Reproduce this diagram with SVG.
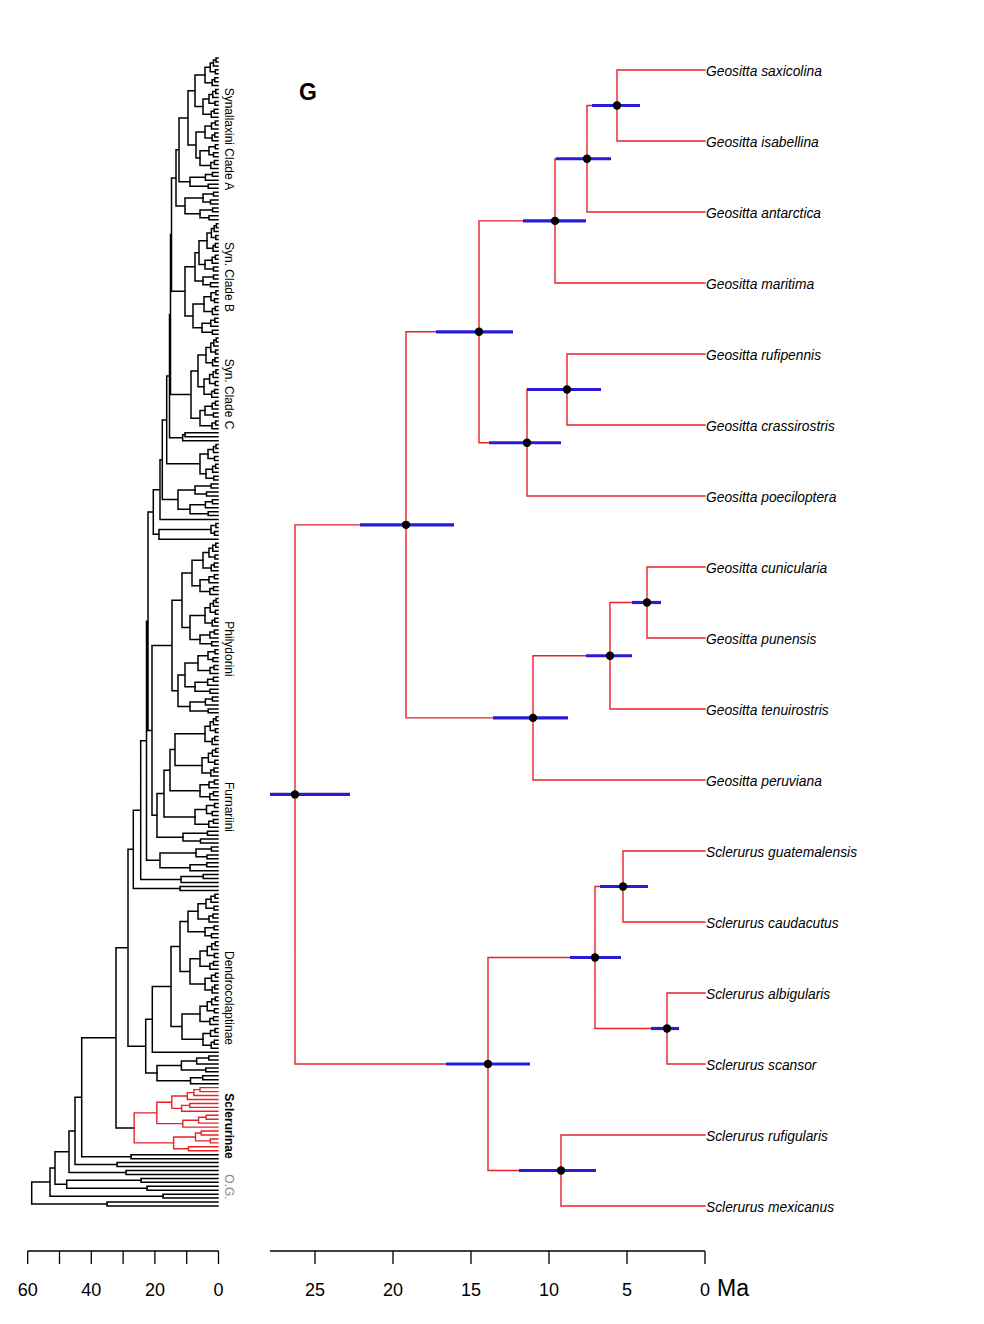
<svg xmlns="http://www.w3.org/2000/svg" width="984" height="1324" viewBox="0 0 984 1324">
<style>
.bk{fill:none;stroke:#000;stroke-width:1.5;vector-effect:non-scaling-stroke;stroke-linecap:square}
.rd{fill:none;stroke:#e8222a;stroke-width:1.4;vector-effect:non-scaling-stroke;stroke-linecap:square}
.bar{fill:none;stroke:#2a1bd8;stroke-width:3.2}
.ax{fill:none;stroke:#000;stroke-width:1.3}
.tip{font-family:"Liberation Sans",Arial,sans-serif;font-style:italic;font-size:13.8px;fill:#000}
.num{font-family:"Liberation Sans",Arial,sans-serif;font-size:18px;fill:#000;text-anchor:middle}
.cl{font-family:"Liberation Sans",Arial,sans-serif;font-size:12px;fill:#000;text-anchor:middle}
</style>
<defs>
<path id="t2" class="bk" d="M-100,0H0M-100,1H0M-100,0V1"/>
<path id="t3" class="bk" d="M-40,0H0M-40,1H0M-40,0V1M-100,.5H-40M-100,2H0M-100,.5V2"/>
<path id="t4" class="bk" d="M-30,0H0M-30,1H0M-30,0V1M-50,2H0M-50,3H0M-50,2V3M-100,.5H-30M-100,2.5H-50M-100,.5V2.5"/>
<path id="t5" class="bk" d="M-20,0H0M-20,1H0M-20,0V1M-45,.5H-20M-45,2H0M-45,.5V2M-35,3H0M-35,4H0M-35,3V4M-100,1.25H-45M-100,3.5H-35M-100,1.25V3.5"/>
<path id="t6" class="bk" d="M-20,0H0M-20,1H0M-20,0V1M-50,.5H-20M-50,2H0M-50,.5V2M-25,3H0M-25,4H0M-25,3V4M-45,3.5H-25M-45,5H0M-45,3.5V5M-100,1.25H-50M-100,4.25H-45M-100,1.25V4.25"/>
<path id="t7" class="bk" d="M-15,0H0M-15,1H0M-15,0V1M-25,2H0M-25,3H0M-25,2V3M-50,.5H-15M-50,2.5H-25M-50,.5V2.5M-20,4H0M-20,5H0M-20,4V5M-40,4.5H-20M-40,6H0M-40,4.5V6M-100,1.5H-50M-100,5.25H-40M-100,1.5V5.25"/>
<path id="t8" class="bk" d="M-15,0H0M-15,1H0M-35,2H0M-20,3H0M-20,4H0M-25,5H0M-25,6H0M-45,7H0M-15,0V1M-35,.5H-15M-35,.5V2M-20,3V4M-60,1.25H-35M-60,3.5H-20M-60,1.25V3.5M-25,5V6M-45,5.5H-25M-45,5.5V7M-100,2.375H-60M-100,6.25H-45M-100,2.375V6.25"/>
</defs>
<rect width="984" height="1324" fill="#fff"/>

<!-- left overview tree -->
<g id="overview-tree" transform="translate(0,58) scale(1,3.945)">
<path class="bk" d="M195,4.3125V12.3125M195,4.3125H205M195,12.3125H203M196,18.75H205M196,18.75V25.375H200M188,8.3125H195M188,8.3125V22.0625H196M179,15.1875H188M179,15.1875V31.375H190M185,35.5H203M185,35.5V39.5H200M176,23.28H179M176,23.28V37.5H185M199,46.3125H207M199,46.3125V52.375H205M195,49.34H199M195,49.34V56.5H203M193,62.375H204M193,62.375V68.375H202M185,52.92H195M185,52.92V65.375H193M198,75.3125H206M198,75.3125V83.3125H204M200,89.375H205M200,89.375V93.25H212M191,79.3125H198M191,79.3125V91.31H200M182.7,95.5H185M182.7,95.5V97H218M171.5,30.39H176M171.5,30.39V59.15H185M170.5,44.77H171.5M170.5,44.77V85.31H191M169.5,65.04H170.5M169.5,65.04V96.25H182.7M200,100.375H208M200,100.375V105.375H206M166.7,80.64H169.5M166.7,80.64V102.875H200M178,109.5H195M178,109.5V114.375H190M162.3,91.76H166.7M162.3,91.76V111.94H178M160,101.85H162.3M160,101.85V117H218M159,119.5H211M159,119.5V122H218M153.3,109.42H160M153.3,109.42V120.75H159M192,127.3125H203M192,127.3125V133.75H200M190,141.3125H205M190,141.3125V147.375H200M182,130.53H192M182,130.53V144.34H190M185,153.375H198M185,153.375V159.375H195M178,156.375H185M178,156.375V164.375H190M172,137.44H182M172,137.44V160.375H178M175,171.3125H205M175,171.3125V179.3125H202M170,175.3125H175M170,175.3125V185.75H200M164,180.53H170M164,180.53V192.375H195M157,186.45H164M157,186.45V197.5H183M152,148.91H172M152,148.91V191.98H157M148,115.09H153.3M148,115.09V170.45H152M160,201.5H196M160,201.5V205.25H190M146.5,142.77H148M146.5,142.77V203.375H160M140.7,173.07H146.5M140.7,173.07V208.25H181M133.3,190.66H140.7M133.3,190.66V210.5H180M188,216.3125H198M188,216.3125V221.5H205M190,228.3125H200M190,228.3125V234.75H205M180,218.91H188M180,218.91V231.53H190M182,242.3125H200M182,242.3125V248.75H203M171,225.22H180M171,225.22V245.53H182M152.3,235.38H171M152.3,235.38V252H218M145.7,243.69H152.3M145.7,243.69V257.3125H157M128,200.58H133.3M128,200.58V250.5H145.7M116,225.54H128M116,225.54V271.21H134.2M81.7,248.38H116M81.7,248.38V278.5H131M75,263.44H81.7M75,263.44V280.5H117M69,271.97H75M69,271.97V282.5H126M66.7,284.5H141M66.7,284.5V286.5H147M55,277.24H69M55,277.24V285.5H66.7M50,281.37H55M50,281.37V288.5H163M31.7,284.93H50M31.7,284.93V290.5H107"/>
<use href="#t8" transform="translate(218,0) scale(.13,1)"/>
<use href="#t8" transform="translate(218,8) scale(.15,1)"/>
<use href="#t6" transform="translate(218,16) scale(.13,1)"/>
<use href="#t7" transform="translate(218,22) scale(.18,1)"/>
<use href="#t5" transform="translate(218,29) scale(.28,1)"/>
<use href="#t4" transform="translate(218,34) scale(.15,1)"/>
<use href="#t4" transform="translate(218,38) scale(.18,1)"/>
<use href="#t8" transform="translate(218,42) scale(.11,1)"/>
<use href="#t5" transform="translate(218,50) scale(.13,1)"/>
<use href="#t4" transform="translate(218,55) scale(.15,1)"/>
<use href="#t7" transform="translate(218,59) scale(.14,1)"/>
<use href="#t5" transform="translate(218,66) scale(.16,1)"/>
<use href="#t8" transform="translate(218,71) scale(.12,1)"/>
<use href="#t8" transform="translate(218,79) scale(.14,1)"/>
<use href="#t5" transform="translate(218,87) scale(.13,1)"/>
<use href="#t3" transform="translate(218,92) scale(.06,1)"/>
<use href="#t2" transform="translate(218,95) scale(.33,1)"/>
<use href="#t5" transform="translate(218,98) scale(.10,1)"/>
<use href="#t5" transform="translate(218,103) scale(.12,1)"/>
<use href="#t4" transform="translate(218,108) scale(.23,1)"/>
<use href="#t5" transform="translate(218,112) scale(.28,1)"/>
<use href="#t4" transform="translate(218,118) scale(.07,1)"/>
<use href="#t8" transform="translate(218,123) scale(.15,1)"/>
<use href="#t6" transform="translate(218,131) scale(.18,1)"/>
<use href="#t8" transform="translate(218,137) scale(.13,1)"/>
<use href="#t5" transform="translate(218,145) scale(.18,1)"/>
<use href="#t7" transform="translate(218,150) scale(.20,1)"/>
<use href="#t5" transform="translate(218,157) scale(.23,1)"/>
<use href="#t5" transform="translate(218,162) scale(.28,1)"/>
<use href="#t8" transform="translate(218,167) scale(.13,1)"/>
<use href="#t8" transform="translate(218,175) scale(.16,1)"/>
<use href="#t6" transform="translate(218,183) scale(.18,1)"/>
<use href="#t7" transform="translate(218,189) scale(.23,1)"/>
<use href="#t4" transform="translate(218,196) scale(.35,1)"/>
<use href="#t4" transform="translate(218,200) scale(.22,1)"/>
<use href="#t3" transform="translate(218,204) scale(.28,1)"/>
<use href="#t3" transform="translate(218,207) scale(.37,1)"/>
<use href="#t2" transform="translate(218,210) scale(.38,1)"/>
<use href="#t8" transform="translate(218,212) scale(.20,1)"/>
<use href="#t4" transform="translate(218,220) scale(.13,1)"/>
<use href="#t8" transform="translate(218,224) scale(.18,1)"/>
<use href="#t6" transform="translate(218,232) scale(.13,1)"/>
<use href="#t8" transform="translate(218,238) scale(.18,1)"/>
<use href="#t6" transform="translate(218,246) scale(.15,1)"/>
<use href="#t8" transform="translate(218,253) scale(.61,1)"/>
<use href="#t2" transform="translate(218,278) scale(.87,1)"/>
<use href="#t2" transform="translate(218,280) scale(1.01,1)"/>
<use href="#t2" transform="translate(218,282) scale(.92,1)"/>
<use href="#t2" transform="translate(218,284) scale(.77,1)"/>
<use href="#t2" transform="translate(218,286) scale(.71,1)"/>
<use href="#t2" transform="translate(218,288) scale(.55,1)"/>
<use href="#t2" transform="translate(218,290) scale(1.11,1)"/>
<use href="#redtree" transform="matrix(0.2045 0 0 0.0140845 73.83 260.0141)"/>
</g>

<g id="overview-labels">
<text class="cl" transform="translate(224.5,139) rotate(90)">Synallaxini Clade A</text>
<text class="cl" transform="translate(224.5,277) rotate(90)">Syn. Clade B</text>
<text class="cl" transform="translate(224.5,394) rotate(90)">Syn. Clade C</text>
<text class="cl" transform="translate(224.5,649) rotate(90)">Philydorini</text>
<text class="cl" transform="translate(224.5,807) rotate(90)">Furnariini</text>
<text class="cl" transform="translate(224.5,998) rotate(90)">Dendrocolaptinae</text>
<text class="cl" font-weight="bold" transform="translate(224.5,1126) rotate(90)">Sclerurinae</text>
<text class="cl" style="fill:#888" transform="translate(224.5,1187) rotate(90)">O.G.</text>
</g>

<!-- panel label -->
<text x="299" y="100" font-family="Liberation Sans, Arial, sans-serif" font-weight="bold" font-size="23">G</text>

<!-- connectors of the detailed tree -->
<g id="connectors">
<path id="redtree" class="rd" d="M617,70H705M617,141H705M587,212H705M555,283H705M567,354H705M567,425H705M527,496H705M647,567H705M647,638H705M610,709H705M533,780H705M623,851H705M623,922H705M667,993H705M667,1064H705M561,1135H705M561,1206H705M617,70V141M587,105.5H617M587,105.5V212M555,158.75H587M555,158.75V283M567,354V425M527,389.5H567M527,389.5V496M479,220.875H555M479,220.875V442.75H527M647,567V638M610,602.5H647M610,602.5V709M533,655.75H610M533,655.75V780M406,331.81H479M406,331.81V717.875H533M623,851V922M667,993V1064M595,886.5H623M595,886.5V1028.5H667M561,1135V1206M488,957.5H595M488,957.5V1170.5H561M295,524.84H406M295,524.84V1064H488"/>
</g>

<!-- internal nodes: age bar + dot -->
<g id="n-sax-isa"><path class="bar" d="M592,105.5H640"/><circle cx="617" cy="105.5" r="4.2"/></g>
<g id="n-sax-ant"><path class="bar" d="M556,158.75H611"/><circle cx="587" cy="158.75" r="4.2"/></g>
<g id="n-sax-mar"><path class="bar" d="M523,220.875H586"/><circle cx="555" cy="220.875" r="4.2"/></g>
<g id="n-geo-a"><path class="bar" d="M436,331.81H513"/><circle cx="479" cy="331.81" r="4.2"/></g>
<g id="n-ruf-cra"><path class="bar" d="M527,389.5H601"/><circle cx="567" cy="389.5" r="4.2"/></g>
<g id="n-ruf-poe"><path class="bar" d="M489,442.75H561"/><circle cx="527" cy="442.75" r="4.2"/></g>
<g id="n-geositta"><path class="bar" d="M360,524.84H454"/><circle cx="406" cy="524.84" r="4.2"/></g>
<g id="n-cun-pun"><path class="bar" d="M632,602.5H661"/><circle cx="647" cy="602.5" r="4.2"/></g>
<g id="n-cun-ten"><path class="bar" d="M586,655.75H632"/><circle cx="610" cy="655.75" r="4.2"/></g>
<g id="n-cun-per"><path class="bar" d="M493,717.875H568"/><circle cx="533" cy="717.875" r="4.2"/></g>
<g id="n-root"><path class="bar" d="M270,794.42H350"/><circle cx="295" cy="794.42" r="4.2"/></g>
<g id="n-gua-cau"><path class="bar" d="M600,886.5H648"/><circle cx="623" cy="886.5" r="4.2"/></g>
<g id="n-gua-sca"><path class="bar" d="M570,957.5H621"/><circle cx="595" cy="957.5" r="4.2"/></g>
<g id="n-alb-sca"><path class="bar" d="M651,1028.5H679"/><circle cx="667" cy="1028.5" r="4.2"/></g>
<g id="n-sclerurus"><path class="bar" d="M446,1064H530"/><circle cx="488" cy="1064" r="4.2"/></g>
<g id="n-ruf-mex"><path class="bar" d="M519,1170.5H596"/><circle cx="561" cy="1170.5" r="4.2"/></g>

<!-- tips -->
<g id="tip-saxicolina"><text class="tip" x="706" y="75.5">Geositta saxicolina</text></g>
<g id="tip-isabellina"><text class="tip" x="706" y="146.5">Geositta isabellina</text></g>
<g id="tip-antarctica"><text class="tip" x="706" y="217.5">Geositta antarctica</text></g>
<g id="tip-maritima"><text class="tip" x="706" y="288.5">Geositta maritima</text></g>
<g id="tip-rufipennis"><text class="tip" x="706" y="359.5">Geositta rufipennis</text></g>
<g id="tip-crassirostris"><text class="tip" x="706" y="430.5">Geositta crassirostris</text></g>
<g id="tip-poeciloptera"><text class="tip" x="706" y="501.5">Geositta poeciloptera</text></g>
<g id="tip-cunicularia"><text class="tip" x="706" y="572.5">Geositta cunicularia</text></g>
<g id="tip-punensis"><text class="tip" x="706" y="643.5">Geositta punensis</text></g>
<g id="tip-tenuirostris"><text class="tip" x="706" y="714.5">Geositta tenuirostris</text></g>
<g id="tip-peruviana"><text class="tip" x="706" y="785.5">Geositta peruviana</text></g>
<g id="tip-guatemalensis"><text class="tip" x="706" y="856.5">Sclerurus guatemalensis</text></g>
<g id="tip-caudacutus"><text class="tip" x="706" y="927.5">Sclerurus caudacutus</text></g>
<g id="tip-albigularis"><text class="tip" x="706" y="998.5">Sclerurus albigularis</text></g>
<g id="tip-scansor"><text class="tip" x="706" y="1069.5">Sclerurus scansor</text></g>
<g id="tip-rufigularis"><text class="tip" x="706" y="1140.5">Sclerurus rufigularis</text></g>
<g id="tip-mexicanus"><text class="tip" x="706" y="1211.5">Sclerurus mexicanus</text></g>

<!-- axes -->
<g id="axis-left">
<path class="ax" d="M27.7,1251H218.5M27.7,1251V1264M59.5,1251V1264M91.3,1251V1264M123.1,1251V1264M154.9,1251V1264M186.7,1251V1264M218.5,1251V1264"/>
<text class="num" x="27.7" y="1296">60</text>
<text class="num" x="91.3" y="1296">40</text>
<text class="num" x="154.9" y="1296">20</text>
<text class="num" x="218.5" y="1296">0</text>
</g>
<g id="axis-right">
<path class="ax" d="M270,1251H705M315,1251V1264M393,1251V1264M471,1251V1264M549,1251V1264M627,1251V1264M705,1251V1264"/>
<text class="num" x="315" y="1296">25</text>
<text class="num" x="393" y="1296">20</text>
<text class="num" x="471" y="1296">15</text>
<text class="num" x="549" y="1296">10</text>
<text class="num" x="627" y="1296">5</text>
<text class="num" x="705" y="1296">0</text>
<text x="717" y="1296" font-family="Liberation Sans, Arial, sans-serif" font-size="23">Ma</text>
</g>
</svg>
